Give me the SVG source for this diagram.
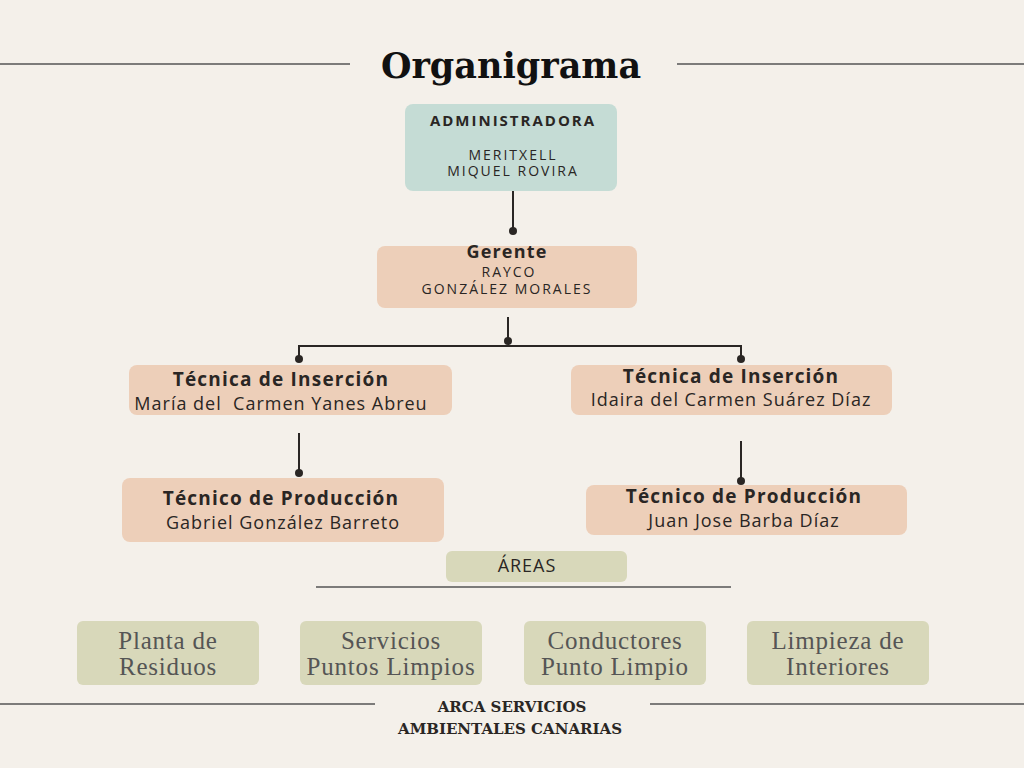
<svg xmlns="http://www.w3.org/2000/svg" width="1024" height="768" viewBox="0 0 1024 768">
<style>
.t{font-family:"Open Sans","Liberation Sans",sans-serif;fill:#2a2624;text-anchor:middle;letter-spacing:1px}
.b{font-weight:bold;letter-spacing:1.2px}
.u{letter-spacing:2px}
.a{font-family:"Liberation Serif",serif;font-size:25px;fill:#555;text-anchor:middle;letter-spacing:0.8px}
.f{font-family:"DejaVu Serif",serif;font-weight:bold;font-size:15px;fill:#2a2624;text-anchor:middle}
.c{stroke:#2a2624;stroke-width:2;fill:none}
</style>
<rect width="1024" height="768" fill="#f4f0ea"/>
<g stroke="#555" stroke-width="1.5"><line x1="0" y1="64" x2="350" y2="64"/><line x1="677" y1="64" x2="1024" y2="64"/><line x1="316" y1="587" x2="731" y2="587"/><line x1="0" y1="704" x2="375" y2="704"/><line x1="650" y1="704" x2="1024" y2="704"/></g>
<text x="511" y="78" font-family="DejaVu Serif,serif" font-weight="bold" font-size="35" fill="#111" text-anchor="middle">Organigrama</text>
<g id="connectors" fill="#2a2624">
<path class="c" d="M513 191V231M508 317V341M299 359V346H741V359M299 433V473M741 441V481"/>
<circle cx="513" cy="231" r="4"/><circle cx="508" cy="341" r="4"/><circle cx="299" cy="359" r="4"/><circle cx="741" cy="359" r="4"/><circle cx="299" cy="473" r="4"/><circle cx="741" cy="481" r="4"/>
</g>
<g id="admin"><rect x="405" y="104" width="212" height="87" rx="8" fill="#c5dcd5"/>
<text class="t b u" x="513" y="126" font-size="15">ADMINISTRADORA</text>
<text class="t u" x="513" y="160" font-size="14">MERITXELL</text><text class="t u" x="513" y="176" font-size="14">MIQUEL ROVIRA</text></g>
<g id="gerente"><rect x="377" y="246" width="260" height="62" rx="8" fill="#edcfb9"/>
<text class="t b" x="507" y="258" font-size="18">Gerente</text>
<text class="t u" x="509" y="277" font-size="14">RAYCO</text><text class="t u" x="507" y="294" font-size="14">GONZÁLEZ MORALES</text></g>
<g id="tec1"><rect x="129" y="365" width="323" height="50" rx="8" fill="#edcfb9"/>
<text class="t b" x="281" y="386" font-size="19">Técnica de Inserción</text>
<text class="t" x="281" y="410" font-size="18" xml:space="preserve">María del  Carmen Yanes Abreu</text></g>
<g id="tec2"><rect x="571" y="365" width="321" height="50" rx="8" fill="#edcfb9"/>
<text class="t b" x="731" y="383" font-size="19">Técnica de Inserción</text>
<text class="t" x="731" y="406" font-size="18">Idaira del Carmen Suárez Díaz</text></g>
<g id="prod1"><rect x="122" y="478" width="322" height="64" rx="8" fill="#edcfb9"/>
<text class="t b" x="281" y="505" font-size="19">Técnico de Producción</text>
<text class="t" x="283" y="529" font-size="18">Gabriel González Barreto</text></g>
<g id="prod2"><rect x="586" y="485" width="321" height="50" rx="8" fill="#edcfb9"/>
<text class="t b" x="744" y="503" font-size="19">Técnico de Producción</text>
<text class="t" x="744" y="527" font-size="18">Juan Jose Barba Díaz</text></g>
<g id="areas"><rect x="446" y="551" width="181" height="31" rx="6" fill="#d8d8ba"/>
<text class="t" x="527" y="572" font-size="18" fill="#444">ÁREAS</text></g>
<g id="a1"><rect x="77" y="621" width="182" height="64" rx="6" fill="#d8d8ba"/><text class="a" x="168" y="649">Planta de</text><text class="a" x="168" y="675">Residuos</text></g>
<g id="a2"><rect x="300" y="621" width="182" height="64" rx="6" fill="#d8d8ba"/><text class="a" x="391" y="649">Servicios</text><text class="a" x="391" y="675">Puntos Limpios</text></g>
<g id="a3"><rect x="524" y="621" width="182" height="64" rx="6" fill="#d8d8ba"/><text class="a" x="615" y="649">Conductores</text><text class="a" x="615" y="675">Punto Limpio</text></g>
<g id="a4"><rect x="747" y="621" width="182" height="64" rx="6" fill="#d8d8ba"/><text class="a" x="838" y="649">Limpieza de</text><text class="a" x="838" y="675">Interiores</text></g>
<text class="f" x="512" y="712">ARCA SERVICIOS</text>
<text class="f" x="510" y="734">AMBIENTALES CANARIAS</text>
</svg>
